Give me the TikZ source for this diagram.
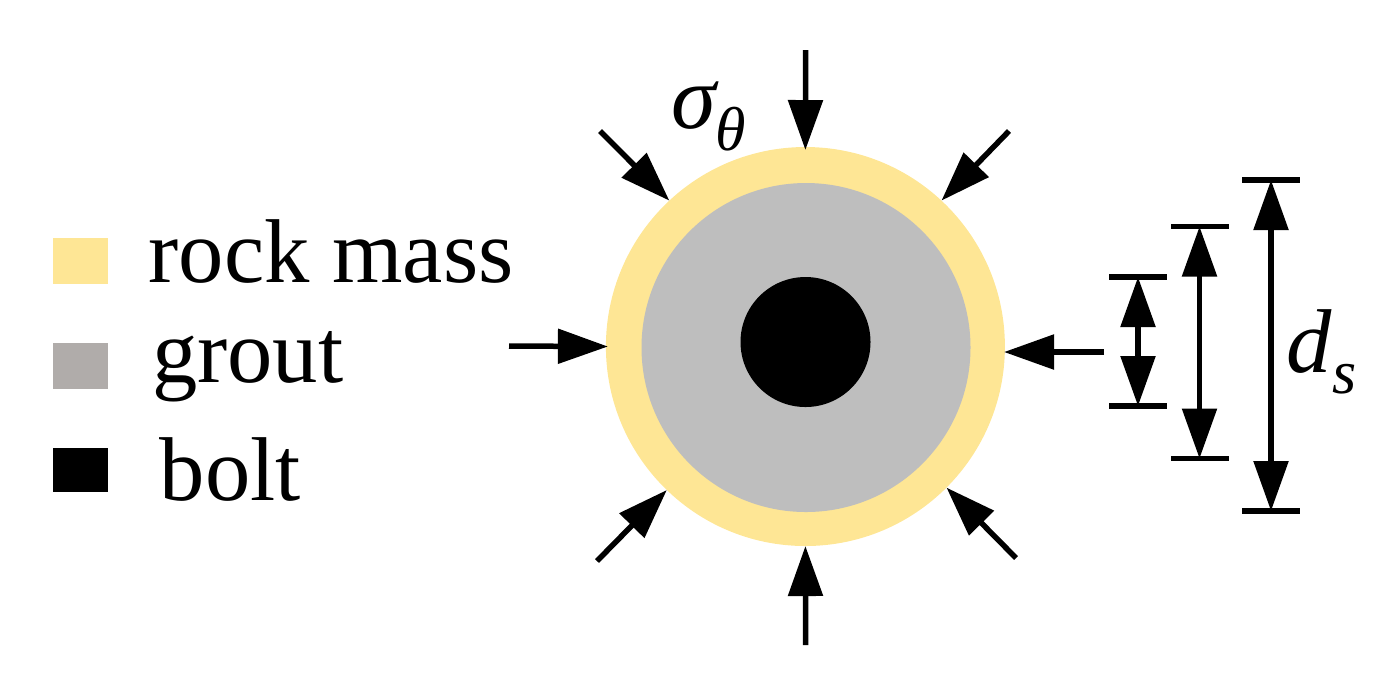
\documentclass[tikz,border=0pt]{standalone}
\usepackage{fontspec}
\setmainfont{Liberation Serif}
\usetikzlibrary{arrows.meta}
\definecolor{rockcol}{HTML}{FEE695}
\definecolor{groutcol}{HTML}{BEBEBE}
\definecolor{swatchcol}{HTML}{B0ACAA}
\newcommand{\bigsize}{\fontsize{9.06mm}{11mm}\selectfont}
\newcommand{\subsize}{\fontsize{6.2mm}{8mm}\selectfont}

\begin{document}
\begin{tikzpicture}[x=0.1mm,y=-0.1mm,
                    disc/.style={circle,inner sep=0pt,outer sep=0pt},
                    swatch/.style={inner sep=0pt,minimum width=5.5mm},
                    legend/.style={anchor=base west,inner sep=0pt,font=\bigsize},
                    symb/.style={anchor=base west,inner sep=0pt,font=\bigsize\itshape},
                    subsymb/.style={anchor=base west,inner sep=0pt,font=\subsize\itshape},
                    tick/.style={fill=black,inner sep=0pt,minimum width=5.8mm,minimum height=0.55mm},
                    load/.style={line width=0.55mm,-{Triangle[length=5mm,width=3.4mm,sep=0pt]}},
                    span/.style={line width=0.55mm,{Triangle[length=5mm,width=3.4mm,sep=0pt]}-{Triangle[length=5mm,width=3.4mm,sep=0pt]}}]
 \useasboundingbox (0,0) rectangle (1382,691);
 % section
 \node[disc,fill=rockcol,minimum size=39.9mm] (rock) at (805.4,346.5) {};
 \node[disc,fill=groutcol,minimum size=32.9mm] (grout) at (806,347.5) {};
 \node[disc,fill=black,minimum size=13mm] (bolt) at (805.5,342) {};
 % legend
 \node[swatch,fill=rockcol,minimum height=4.6mm] (keyrock) at (80.5,261) {};
 \node[swatch,fill=swatchcol,minimum height=4.6mm] (keygrout) at (80.5,366) {};
 \node[swatch,fill=black,minimum height=4.4mm] (keybolt) at (80.5,470) {};
 \node[legend] (txtrock) at (148,282) {rock mass};
 \node[legend] (txtgrout) at (151.5,382) {grout};
 \node[legend] (txtbolt) at (159,500) {bolt};
 % loads
 \coordinate (ln) at (805.6,50);
 \coordinate (ls) at (805.6,645);
 \coordinate (lw) at (509,346);
 \coordinate (le) at (1104,352);
 \coordinate (lnw) at (600,131);
 \coordinate (lne) at (1009,131);
 \coordinate (lsw) at (597,561);
 \coordinate (lse) at (1016,558);
 \coordinate (tipe) at (1004,352);
 \draw[load,shorten >=-0.3mm] (ln) -- (rock.north);
 \draw[load] (ls) -- (rock.south);
 \draw[load,shorten >=-0.2mm] (lw) -- (rock.west);
 \draw[load] (le) -- (tipe);
 \draw[load] (lnw) -- (rock.133);
 \draw[load] (lne) -- (rock.47);
 \draw[load] (lsw) -- (rock.226);
 \draw[load] (lse) -- (rock.-45);
 \node[symb] (sigma) at (671,128) {σ};
 \node[subsymb] (theta) at (715,150) {θ};
 % diameters
 \node[tick] (bolttop) at (1138,277) {};
 \node[tick] (boltbot) at (1138,406) {};
 \node[tick] (grouttop) at (1199.5,226.5) {};
 \node[tick] (groutbot) at (1199.5,458.5) {};
 \node[tick] (rocktop) at (1271,180) {};
 \node[tick] (rockbot) at (1271,511) {};
 \draw[span] (bolttop.center) -- (boltbot.center);
 \draw[span] (grouttop.center) -- (groutbot.center);
 \draw[span] (rocktop.center) -- (rockbot.center);
 \node[symb] (dlab) at (1286,372) {d};
 \node[subsymb] (slab) at (1332,393) {s};
\end{tikzpicture}
\end{document}
